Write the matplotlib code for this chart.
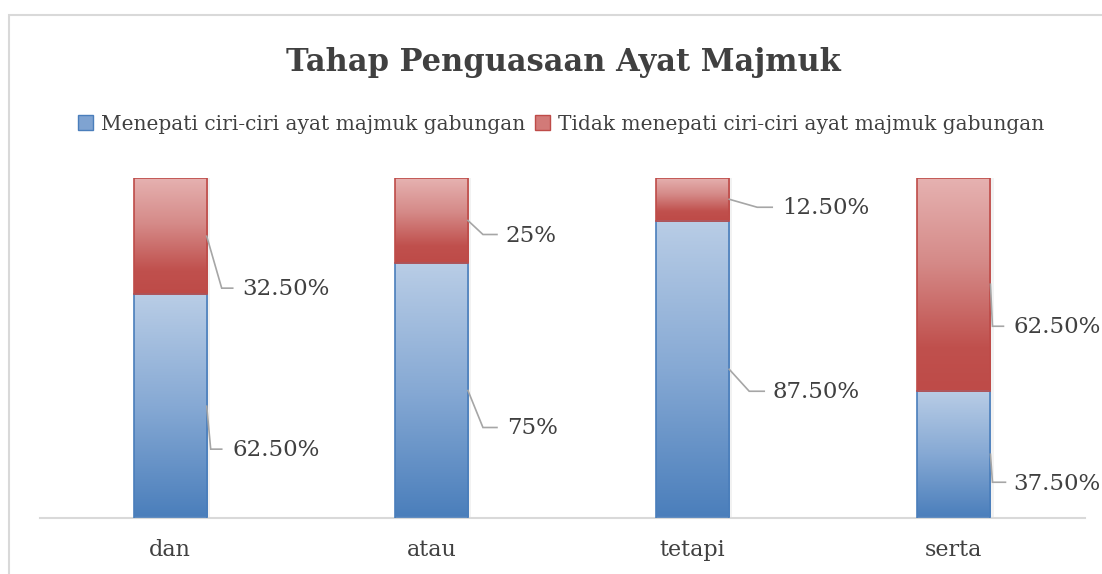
import numpy as np
import matplotlib
matplotlib.use("Agg")
import matplotlib.pyplot as plt
from matplotlib.patches import Rectangle
from matplotlib.colors import LinearSegmentedColormap

# Data (percent)
categories = ["dan", "atau", "tetapi", "serta"]
menepati = [62.5, 75, 87.5, 37.5]
tidak_menepati = [32.5, 25, 12.5, 62.5]
series_names = ["Menepati ciri-ciri ayat majmuk gabungan",
                "Tidak menepati ciri-ciri ayat majmuk gabungan"]

# label layout in pixels from leader start (bar edge, segment middle), y down:
# (kink dx, kink dy, line end dx, text dx, text dy)
blue_offsets = [(4, 43, 15, 26, 44), (15, 37, 29, 39, 38), (20, 22, 35, 43, 23), (2, 28, 15, 23, 30)]
red_offsets = [(15, 52, 26, 36, 53), (15, 14, 29, 37, 16), (28, 8, 43, 53, 9), (2, 42, 13, 23, 43)]

text_col = "#404040"
plt.rcParams["font.family"] = "DejaVu Serif"

W, H = 1102, 574
fig = plt.figure(figsize=(W / 100, H / 100), dpi=100)
fig.patch.set_facecolor("white")

# outer chart frame (right and bottom edges are outside the picture)
fig.patches.append(Rectangle((9 / W, -0.1), 1.2, 1 - 15 / H + 0.1, transform=fig.transFigure,
                             fill=False, edgecolor="#d9d9d9", lw=1.5))

ax_w, ax_h = 1045, 340
ax = fig.add_axes([39.5 / W, 56 / H, ax_w / W, ax_h / H])
x = np.arange(len(categories))
blue = np.array(menepati)
red = np.array(tidak_menepati)
total = blue + red
blue_f = blue / total
red_f = red / total

width = 0.28
bars_b = ax.bar(x, blue_f, width, facecolor="none", edgecolor="#4a7ebb", lw=1.2, zorder=3)
bars_r = ax.bar(x, red_f, width, bottom=blue_f, facecolor="none", edgecolor="#be4b48", lw=1.2, zorder=3)

cmap_b = LinearSegmentedColormap.from_list("b", ["#4a7ebb", "#86a9d4", "#b9cde6"])
cmap_r = LinearSegmentedColormap.from_list("r", [(0, "#be4b48"), (0.2, "#c0504d"),
                                                 (0.6, "#d58a88"), (1, "#e6b2b1")])
grad = np.linspace(0, 1, 256).reshape(-1, 1)

for bars, cmap in [(bars_b, cmap_b), (bars_r, cmap_r)]:
    for b in bars:
        x0, y0 = b.get_x(), b.get_y()
        w, h = b.get_width(), b.get_height()
        # soft shadow on the right
        ax.add_patch(Rectangle((x0 + w, y0), 0.012, h, facecolor="#000000", alpha=0.05,
                               lw=0, zorder=1))
        im = ax.imshow(grad, cmap=cmap, origin="lower", aspect="auto",
                       extent=(x0, x0 + w, y0, y0 + h), zorder=2, interpolation="bicubic")
        im.set_clip_path(b)

ax.set_xlim(-0.5, len(categories) - 0.5)
ax.set_ylim(0, 1)

px_x = ax_w / (len(categories))  # pixels per x unit
px_y = ax_h / 1.0               # pixels per y unit

for i in range(len(categories)):
    for val, bottom, frac, off in [(blue[i], 0, blue_f[i], blue_offsets[i]),
                                   (red[i], blue_f[i], red_f[i], red_offsets[i])]:
        sx = x[i] + width / 2
        sy = bottom + frac / 2
        kx, ky, ex, tx, ty = off
        xs = [sx, sx + kx / px_x, sx + ex / px_x]
        ys = [sy, sy - ky / px_y, sy - ky / px_y]
        ax.plot(xs, ys, color="#a6a6a6", lw=1.2, zorder=4, clip_on=False,
                solid_joinstyle="miter")
        label = f"{val:.2f}%" if val != int(val) else f"{int(val)}%"
        ax.text(sx + tx / px_x, sy - ty / px_y, label, fontsize=16.5, color=text_col,
                va="center", ha="left", zorder=5, clip_on=False)

for s in ["top", "left", "right"]:
    ax.spines[s].set_visible(False)
ax.spines["bottom"].set_color("#d9d9d9")
ax.spines["bottom"].set_linewidth(1.5)
ax.set_yticks([])
ax.set_xticks(x)
ax.set_xticklabels(categories, fontsize=16, color=text_col)
ax.tick_params(axis="x", length=0, pad=15)
ax.set_facecolor("none")

fig.text(563 / W, 1 - 62 / H, "Tahap Penguasaan Ayat Majmuk", ha="center", va="center",
         fontsize=22, fontweight="bold", color=text_col)

handles = [Rectangle((0, 0), 1, 1, facecolor="#7fa3d1", edgecolor="#4a7ebb"),
           Rectangle((0, 0), 1, 1, facecolor="#d27a78", edgecolor="#be4b48")]
fig.legend(handles, series_names, loc="center", bbox_to_anchor=(561 / W, 1 - 124 / H),
           ncol=2, frameon=False, fontsize=14.5, handlelength=0.75, handleheight=0.75,
           handletextpad=0.4, columnspacing=0.5, labelcolor=text_col, borderaxespad=0)

fig.savefig("out.png", dpi=100, facecolor="white")
